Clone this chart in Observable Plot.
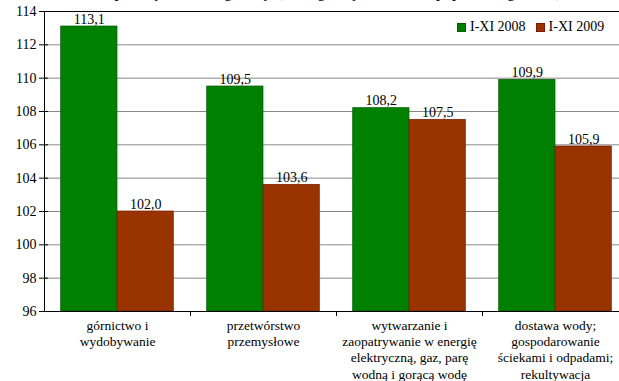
<!DOCTYPE html>
<html><head><meta charset="utf-8">
<script src="https://cdn.jsdelivr.net/npm/d3@7"></script>
<script src="https://cdn.jsdelivr.net/npm/@observablehq/plot@0.6"></script>
<style>
html,body{margin:0;padding:0;background:#fff;overflow:hidden;width:619px;height:381px;}
#wrap{position:relative;width:619px;height:381px;overflow:hidden;font-family:"Liberation Serif","Times New Roman",serif;}
#title{position:absolute;top:-17px;left:0;width:676px;text-align:center;font-size:16px;color:#000;white-space:nowrap;}
#legend{position:absolute;top:19px;left:457px;font-size:14px;display:flex;gap:10px;align-items:center;}
#legend span{display:inline-flex;align-items:center;gap:4px;}
#legend i{display:inline-block;width:7px;height:7px;}
#wrap svg{position:absolute;top:0;left:0;max-width:none !important;}
#wrap svg, #wrap svg text{font-family:"Liberation Serif","Times New Roman",serif !important;}
</style></head>
<body><div id="wrap"><div id="title"></div><div id="legend"></div></div>
<script>
const titleText = "przemysłu według sekcji (analogiczny okres roku poprzedniego=100)";
const categories = ["górnictwo i\nwydobywanie", "przetwórstwo\nprzemysłowe", "wytwarzanie i\nzaopatrywanie w energię\nelektryczną, gaz, parę\nwodną i gorącą wodę", "dostawa wody;\ngospodarowanie\nściekami i odpadami;\nrekultywacja"];
const seriesNames = ["I-XI 2008", "I-XI 2009"];
const values2008 = [113.1, 109.5, 108.2, 109.9];
const values2009 = [102.0, 103.6, 107.5, 105.9];
const yTicks = [96, 98, 100, 102, 104, 106, 108, 110, 112, 114];
const colors = ["#008000", "#993300"];
const strokes = ["#005a00", "#7a1a00"];

const data = [];
categories.forEach((c, i) => {
  data.push({cat: c, series: seriesNames[0], value: values2008[i]});
  data.push({cat: c, series: seriesNames[1], value: values2009[i]});
});
const fmt = v => v.toFixed(1).replace(".", ",");
const gridTicks = yTicks.filter(t => t !== 96 && t !== 114);

document.getElementById("title").textContent = titleText;
const leg = document.getElementById("legend");
seriesNames.forEach((s, i) => {
  const sp = document.createElement("span");
  sp.innerHTML = `<i style="background:${colors[i]};border:1px solid ${strokes[i]}"></i>${s}`;
  leg.appendChild(sp);
});

const d08 = data.filter(d => d.series === seriesNames[0]);
const d09 = data.filter(d => d.series === seriesNames[1]);

const chart = Plot.plot({
  width: 640,
  height: 381,
  marginLeft: 44,
  marginRight: 12,
  marginTop: 11,
  marginBottom: 70,
  style: {fontSize: "13.5px", color: "#000", background: "transparent"},
  x: {type: "band", domain: categories, padding: 0, label: null},
  y: {domain: [96, 114], label: null},
  marks: [
    Plot.ruleY(gridTicks, {stroke: "#888", strokeWidth: 1}),
    Plot.barY(d08, {x: "cat", y1: 96, y2: "value", fill: colors[0], stroke: strokes[0], strokeWidth: 0.7, insetLeft: 16.7, insetRight: 73}),
    Plot.barY(d09, {x: "cat", y1: 96, y2: "value", fill: colors[1], stroke: strokes[1], strokeWidth: 0.7, insetLeft: 73, insetRight: 16.7}),
    Plot.text(d08, {x: "cat", y: "value", text: d => fmt(d.value), dx: -28.3, dy: -3, lineAnchor: "bottom", fontSize: 14}),
    Plot.text(d09, {x: "cat", y: "value", text: d => fmt(d.value), dx: 28.3, dy: -3, lineAnchor: "bottom", fontSize: 14}),
    Plot.ruleY([114], {stroke: "#000", strokeWidth: 1}),
    Plot.ruleY([96], {stroke: "#000", strokeWidth: 1}),
    Plot.ruleX(categories.slice(1), {x: d => d, dx: -73, y1: 96, y2: 96, insetBottom: -5, stroke: "#000"}),
    Plot.axisY({ticks: yTicks, tickFormat: d => String(d), tickSize: 5, tickPadding: 3, fontSize: 14, stroke: "#000"}),
    Plot.axisY({ticks: yTicks, tickFormat: null, text: null, tickSize: -4, stroke: "#000"}),
    Plot.ruleX([categories[0]], {x: d => d, dx: -73, y1: 96, y2: 114, stroke: "#000"}),
    Plot.axisX({tickSize: 0, tickPadding: 7, lineHeight: 1.2, fontSize: 13.5, tickFormat: d => d})
  ]
});
document.getElementById("wrap").appendChild(chart);
</script>
</body></html>
